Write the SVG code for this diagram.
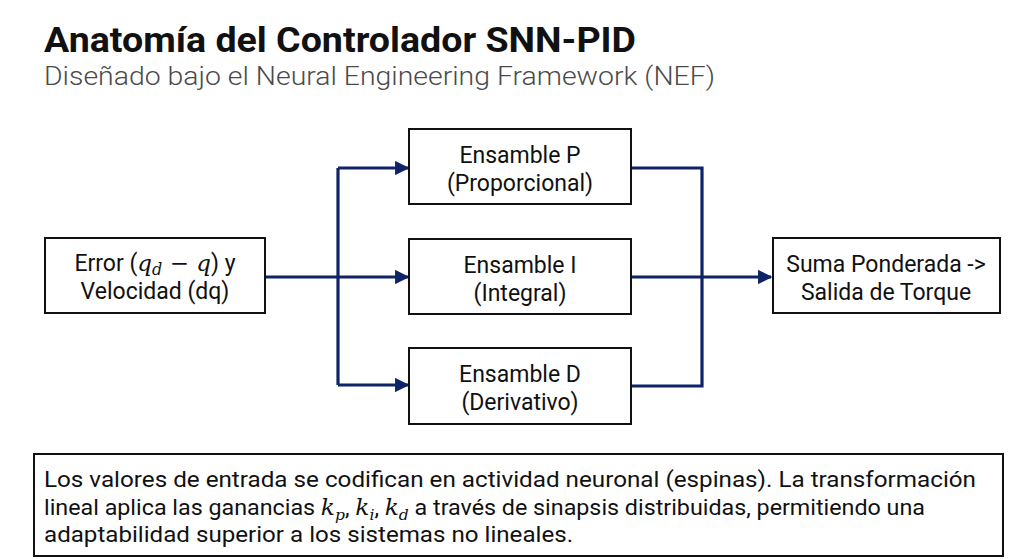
<svg xmlns="http://www.w3.org/2000/svg" width="1024" height="559" viewBox="0 0 1024 559">
<style>
.box{fill:#fff;stroke:#111;stroke-width:2}
.t{font-family:Roboto,"Liberation Sans",sans-serif;font-size:23px;fill:#111;text-anchor:middle}
.m{font-family:"DejaVu Serif","Liberation Serif",serif;font-style:italic}
.c{fill:none;stroke:#0f2367;stroke-width:3.2}
.b{font-family:Roboto,"Liberation Sans",sans-serif;font-size:22.5px;fill:#111}
</style>
<defs>
<marker id="ah" viewBox="0 0 10 10" refX="9" refY="5" markerWidth="4.5" markerHeight="4.5" orient="auto" markerUnits="strokeWidth">
<path d="M0,0 L10,5 L0,10 z" fill="#0f2367"/>
</marker>
</defs>
<rect width="1024" height="559" fill="#fff"/>
<text x="44" y="52" font-family="Roboto,'Liberation Sans',sans-serif" font-weight="bold" font-size="35" fill="#111" textLength="592" lengthAdjust="spacingAndGlyphs">Anatomía del Controlador SNN-PID</text>
<text x="44" y="85" font-family="Roboto,'Liberation Sans',sans-serif" font-weight="300" font-size="26" fill="#4a4a4a" textLength="671" lengthAdjust="spacingAndGlyphs">Diseñado bajo el Neural Engineering Framework (NEF)</text>
<g id="connectors">
<path class="c" d="M265,277 H408" marker-end="url(#ah)"/>
<path class="c" d="M338,168 V385"/>
<path class="c" d="M338,168 H408" marker-end="url(#ah)"/>
<path class="c" d="M338,385 H408" marker-end="url(#ah)"/>
<path class="c" d="M631,168 H702 V386 H631"/>
<path class="c" d="M631,277 H771" marker-end="url(#ah)"/>
</g>
<g id="input">
<rect class="box" x="45" y="238" width="220" height="75"/>
<text class="t" x="155" y="271">Error (<tspan class="m">q</tspan><tspan class="m" font-size="16" dy="4">d</tspan><tspan dy="-4" font-family="'DejaVu Serif',serif"> − </tspan><tspan class="m">q</tspan>) y</text>
<text class="t" x="155" y="299">Velocidad (dq)</text>
</g>
<g id="ensP">
<rect class="box" x="409" y="129" width="222" height="75"/>
<text class="t" x="520" y="163">Ensamble P</text>
<text class="t" x="520" y="191">(Proporcional)</text>
</g>
<g id="ensI">
<rect class="box" x="409" y="239" width="222" height="75"/>
<text class="t" x="520" y="273">Ensamble I</text>
<text class="t" x="520" y="301">(Integral)</text>
</g>
<g id="ensD">
<rect class="box" x="409" y="348" width="222" height="76"/>
<text class="t" x="520" y="382">Ensamble D</text>
<text class="t" x="520" y="410">(Derivativo)</text>
</g>
<g id="output">
<rect class="box" x="773" y="238" width="227" height="75"/>
<text class="t" x="886" y="272">Suma Ponderada -&gt;</text>
<text class="t" x="886" y="300">Salida de Torque</text>
</g>
<g id="note">
<rect class="box" x="34" y="454" width="969" height="102"/>
<text class="b" x="44" y="487" textLength="932" lengthAdjust="spacingAndGlyphs">Los valores de entrada se codifican en actividad neuronal (espinas). La transformación</text>
<text class="b" x="44" y="515" textLength="881" lengthAdjust="spacingAndGlyphs">lineal aplica las ganancias <tspan class="m">k</tspan><tspan class="m" font-size="15" dy="5">p</tspan><tspan dy="-5">, </tspan><tspan class="m">k</tspan><tspan class="m" font-size="15" dy="5">i</tspan><tspan dy="-5">, </tspan><tspan class="m">k</tspan><tspan class="m" font-size="15" dy="5">d</tspan><tspan dy="-5"> a través de sinapsis distribuidas, permitiendo una</tspan></text>
<text class="b" x="44" y="542" textLength="529" lengthAdjust="spacingAndGlyphs">adaptabilidad superior a los sistemas no lineales.</text>
</g>
</svg>
